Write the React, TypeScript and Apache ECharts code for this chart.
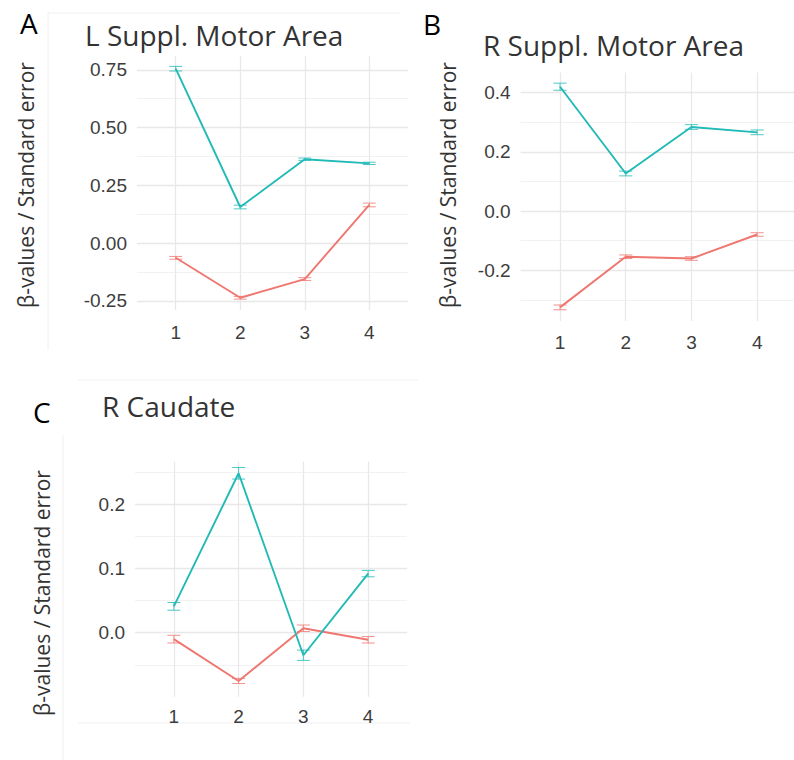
import React, { useEffect, useRef } from "react";
import * as echarts from "echarts";

// x categories (time points)
const xCategories = [1, 2, 3, 4];

// Panel A – L Suppl. Motor Area
const aTitle = "L Suppl. Motor Area";
const aTeal = [0.755, 0.156, 0.363, 0.345];
const aTealSE = [0.01, 0.008, 0.005, 0.005];
const aRed = [-0.064, -0.237, -0.156, 0.165];
const aRedSE = [0.006, 0.006, 0.006, 0.008];
const aMajor = [-0.25, 0, 0.25, 0.5, 0.75];
const aMinor = [-0.125, 0.125, 0.375, 0.625];

// Panel B – R Suppl. Motor Area
const bTitle = "R Suppl. Motor Area";
const bTeal = [0.42, 0.127, 0.284, 0.266];
const bTealSE = [0.012, 0.008, 0.008, 0.008];
const bRed = [-0.325, -0.154, -0.16, -0.079];
const bRedSE = [0.008, 0.006, 0.006, 0.006];
const bMajor = [-0.2, 0, 0.2, 0.4];
const bMinor = [-0.3, -0.1, 0.1, 0.3];

// Panel C – R Caudate
const cTitle = "R Caudate";
const cTeal = [0.041, 0.248, -0.035, 0.092];
const cTealSE = [0.006, 0.009, 0.008, 0.005];
const cRed = [-0.01, -0.075, 0.007, -0.011];
const cRedSE = [0.006, 0.004, 0.005, 0.005];
const cMajor = [0, 0.1, 0.2];
const cMinor = [-0.05, 0.05, 0.15, 0.25];

const yTitle = "β-values / Standard error";

const TEAL = "#22bab7";
const RED = "#ef7770";
const TICK_COLOR = "#3d3d3d";
const TEXT_COLOR = "#333333";

const panels = [
  {
    letter: "A", title: aTitle, teal: aTeal, tealSE: aTealSE, red: aRed, redSE: aRedSE,
    major: aMajor, minor: aMinor, digits: 2, yMin: -0.29, yMax: 0.81,
    grid: { left: 137, top: 56, width: 271, height: 254 }, xMargin: 13,
    letterPos: [20, 23], titlePos: [85, 35], yTitlePos: [26, 185],
  },
  {
    letter: "B", title: bTitle, teal: bTeal, tealSE: bTealSE, red: bRed, redSE: bRedSE,
    major: bMajor, minor: bMinor, digits: 1, yMin: -0.371, yMax: 0.468,
    grid: { left: 520.6, top: 72.5, width: 276, height: 248.5 }, xMargin: 12,
    letterPos: [423, 24], titlePos: [483, 45], yTitlePos: [448, 185],
  },
  {
    letter: "C", title: cTitle, teal: cTeal, tealSE: cTealSE, red: cRed, redSE: cRedSE,
    major: cMajor, minor: cMinor, digits: 1, yMin: -0.0995, yMax: 0.266,
    grid: { left: 135, top: 461.7, width: 272, height: 235 }, xMargin: 10,
    letterPos: [33, 412], titlePos: [102, 406], yTitlePos: [42, 593],
  },
];

const renderErr = (params: any, api: any) => {
  const x = api.value(0);
  const lo = api.value(1);
  const hi = api.value(2);
  const top = api.coord([x, hi]);
  const bot = api.coord([x, lo]);
  const hw = api.size([0.1, 0])[0];
  const style = { stroke: api.visual("color"), lineWidth: 1, opacity: 0.8 };
  return {
    type: "group",
    children: [
      { type: "line", shape: { x1: top[0], y1: top[1], x2: bot[0], y2: bot[1] }, style },
      { type: "line", shape: { x1: top[0] - hw, y1: top[1], x2: top[0] + hw, y2: top[1] }, style },
      { type: "line", shape: { x1: bot[0] - hw, y1: bot[1], x2: bot[0] + hw, y2: bot[1] }, style },
    ],
  };
};

export default function App() {
  const ref = useRef<HTMLDivElement>(null);

  useEffect(() => {
    if (!ref.current) return;
    const chart = echarts.init(ref.current, undefined, { renderer: "svg" });

    const grids: any[] = [];
    const xAxes: any[] = [];
    const yAxes: any[] = [];
    const series: any[] = [];
    const graphics: any[] = [];

    panels.forEach((p, i) => {
      grids.push({ ...p.grid, containLabel: false, outerBoundsMode: "none" });
      xAxes.push({
        type: "value",
        gridIndex: i,
        min: 0.4,
        max: 4.6,
        axisLine: { show: false },
        axisTick: { show: false, customValues: xCategories },
        axisLabel: {
          customValues: xCategories,
          margin: p.xMargin,
          color: TICK_COLOR,
          fontSize: 19,
          fontFamily: "Liberation Sans",
          formatter: (v: number) => String(Math.round(v)),
        },
        splitLine: { show: true, lineStyle: { color: "#e8e8e8", width: 1.3 } },
      });
      yAxes.push({
        type: "value",
        gridIndex: i,
        min: p.yMin,
        max: p.yMax,
        axisLine: { show: false },
        axisTick: { show: false, customValues: p.major },
        axisLabel: {
          customValues: p.major,
          margin: 10,
          color: TICK_COLOR,
          fontSize: 19,
          fontFamily: "Liberation Sans",
          formatter: (v: number) => v.toFixed(p.digits),
        },
        splitLine: { show: true, lineStyle: { color: "#e8e8e8", width: 1.3 } },
      });
      yAxes.push({
        type: "value",
        gridIndex: i,
        min: p.yMin,
        max: p.yMax,
        axisLine: { show: false },
        axisTick: { show: false, customValues: p.minor },
        axisLabel: { show: false },
        splitLine: { show: true, lineStyle: { color: "#f0f0f0", width: 0.9 } },
      });

      const groups = [
        { vals: p.red, se: p.redSE, color: RED },
        { vals: p.teal, se: p.tealSE, color: TEAL },
      ];
      groups.forEach((g) => {
        series.push({
          type: "custom",
          xAxisIndex: i,
          yAxisIndex: 2 * i,
          renderItem: renderErr,
          itemStyle: { color: g.color },
          encode: { x: 0, y: [1, 2] },
          data: xCategories.map((x, k) => [x, g.vals[k] - g.se[k], g.vals[k] + g.se[k]]),
          z: 3,
        });
        series.push({
          type: "line",
          xAxisIndex: i,
          yAxisIndex: 2 * i,
          symbol: "none",
          lineStyle: { color: g.color, width: 1.9 },
          itemStyle: { color: g.color },
          data: xCategories.map((x, k) => [x, g.vals[k]]),
          z: 4,
        });
      });

      graphics.push({
        type: "text",
        x: p.letterPos[0],
        y: p.letterPos[1],
        style: { text: p.letter, fill: "#000", font: "28px 'Open Sans'", align: "left", verticalAlign: "middle" },
      });
      graphics.push({
        type: "text",
        x: p.titlePos[0],
        y: p.titlePos[1],
        style: { text: p.title, fill: TEXT_COLOR, font: "28px 'Open Sans'", align: "left", verticalAlign: "middle" },
      });
      graphics.push({
        type: "text",
        x: p.yTitlePos[0],
        y: p.yTitlePos[1],
        rotation: Math.PI / 2,
        style: { text: yTitle, fill: TEXT_COLOR, font: "21px 'Open Sans'", align: "center", verticalAlign: "middle" },
      });
    });

    // faint panel borders from the source figure
    const faint = { stroke: "#f0f0f0", lineWidth: 1 };
    graphics.push({ type: "line", shape: { x1: 48, y1: 13, x2: 48, y2: 350 }, style: faint, z: -1 });
    graphics.push({ type: "line", shape: { x1: 48, y1: 13, x2: 400, y2: 13 }, style: faint, z: -1 });
    graphics.push({ type: "line", shape: { x1: 63, y1: 435, x2: 63, y2: 760 }, style: faint, z: -1 });
    graphics.push({ type: "line", shape: { x1: 78, y1: 380, x2: 418, y2: 380 }, style: faint, z: -1 });
    graphics.push({ type: "line", shape: { x1: 78, y1: 723, x2: 410, y2: 723 }, style: faint, z: -1 });

    chart.setOption({
      animation: false,
      backgroundColor: "#ffffff",
      grid: grids,
      xAxis: xAxes,
      yAxis: yAxes,
      series,
      graphic: graphics,
    });

    return () => chart.dispose();
  }, []);

  return (
    <div
      ref={ref}
      style={{ position: "absolute", left: 0, top: 0, width: 794, height: 760 }}
    />
  );
}
